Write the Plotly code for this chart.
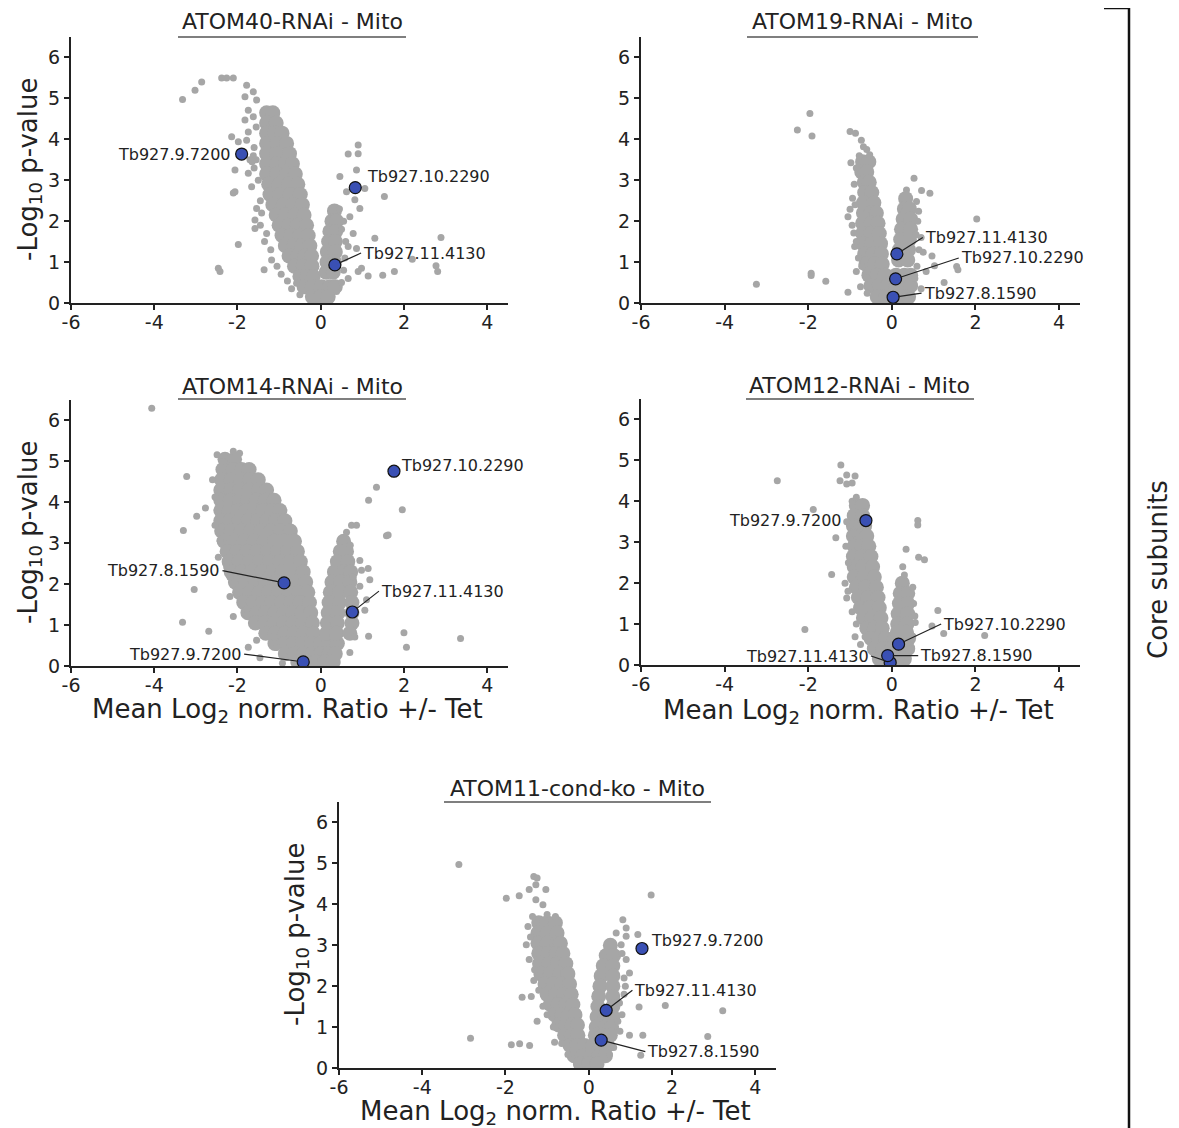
import plotly.graph_objects as go

PAGE_W, PAGE_H = 1179, 1128
OFF = 8  # default body margin of the html page
W, H = PAGE_W - OFF, PAGE_H - OFF
FONT = "DejaVu Sans"
GRAY = "#A6A6A6"
BLUE = "#3A50B4"
INK = "#222222"

# ---------------- data ----------------
panel_titles = ["ATOM40-RNAi - Mito", "ATOM19-RNAi - Mito", "ATOM14-RNAi - Mito",
                "ATOM12-RNAi - Mito", "ATOM11-cond-ko - Mito"]
x_ticks = [-6, -4, -2, 0, 2, 4]
x_ticklabels = ["-6", "-4", "-2", "0", "2", "4"]
y_ticks = [0, 1, 2, 3, 4, 5, 6]
y_ticklabels = ["0", "1", "2", "3", "4", "5", "6"]

# dense part of each cloud, read row by row: (y, [x values])
atom40_dense = [
    (4.65, [-1.3, -1.15]), (4.4, [-1.3, -1.07]), (4.15, [-1.3, -1.1, -0.93]),
    (3.9, [-1.3, -1.05, -0.82]), (3.65, [-1.3, -1.05, -0.75]),
    (3.4, [-1.3, -1.05, -0.85, -0.68]), (3.15, [-1.3, -1.05, -0.82, -0.61]),
    (2.9, [-1.25, -1.0, -0.77, -0.55]), (2.65, [-1.22, -0.98, -0.73, -0.49]),
    (2.4, [-1.15, -0.9, -0.67, -0.44]), (2.15, [-1.07, -0.85, -0.62, -0.4]),
    (1.9, [-1.0, -0.78, -0.56, -0.34]), (1.65, [-0.93, -0.72, -0.5, -0.3]),
    (1.4, [-0.85, -0.64, -0.45, -0.26]), (1.15, [-0.76, -0.55, -0.38, -0.22]),
    (0.9, [-0.63, -0.42, -0.21]), (0.65, [-0.5, -0.33, -0.18]),
    (0.4, [-0.4, -0.2, 0.02, 0.22, 0.35]), (0.15, [-0.2, 0.0, 0.18]),
    (2.25, [0.33]), (2.0, [0.27, 0.38]), (1.75, [0.22, 0.36]), (1.5, [0.19, 0.35]),
    (1.25, [0.16, 0.35]), (1.0, [0.15, 0.33]), (0.75, [0.13, 0.3]),
]
atom40_sparse = [
    (-3.32, 4.97), (-3.02, 5.2), (-2.86, 5.4), (-2.38, 5.5), (-2.26, 5.5), (-2.1, 5.5),
    (-1.78, 5.32), (-1.62, 5.16), (-1.82, 5.04), (-1.54, 4.96), (-1.74, 4.71), (-1.82, 4.47),
    (-1.62, 4.55), (-1.74, 4.18), (-2.14, 4.06), (-1.98, 3.94), (-1.78, 3.98), (-2.06, 3.25),
    (-1.74, 3.17), (-2.1, 2.69), (-1.66, 2.84), (-1.54, 2.31), (-1.58, 2.03), (-1.58, 1.82),
    (-1.98, 1.43), (-2.46, 0.85), (-2.42, 0.77), (-1.36, 0.81), (-1.18, 1.05), (-0.8, 0.54),
    (-0.58, 0.48), (-2.06, 2.72),
    (-1.55, 4.3), (-1.6, 3.8), (-1.55, 3.5), (-1.62, 3.6), (-1.5, 3.0), (-1.6, 3.3),
    (-1.45, 2.5), (-1.42, 2.2), (-1.3, 1.7), (-1.35, 1.5), (-1.2, 1.3), (-1.05, 0.9),
    (-0.95, 0.7), (-0.7, 0.35), (-0.5, 0.2), (-1.7, 3.5), (-1.65, 3.45), (-1.45, 1.9),
    (0.9, 3.65), (0.66, 3.64), (0.46, 3.09), (0.9, 3.86), (0.86, 3.25), (1.06, 2.8),
    (1.53, 2.6), (1.3, 1.58), (2.89, 1.6), (2.2, 1.07), (2.77, 0.91), (2.81, 0.77),
    (1.77, 0.77), (1.49, 0.68), (1.14, 0.66), (0.98, 0.85), (0.9, 0.77), (0.66, 0.6),
    (0.38, 0.28), (0.82, 2.52), (0.94, 2.31), (0.62, 2.72), (0.7, 2.11), (0.78, 1.7),
    (0.66, 1.38), (0.86, 1.33), (0.55, 2.0), (0.6, 1.5), (0.58, 1.1), (0.55, 0.8),
    (0.5, 0.5), (0.45, 2.3), (0.5, 1.8),
]
atom40_genes = ["Tb927.9.7200", "Tb927.10.2290", "Tb927.11.4130"]
atom40_gx = [-1.9, 0.83, 0.34]
atom40_gy = [3.64, 2.82, 0.93]

atom19_dense = [
    (3.45, [-0.7, -0.55]), (3.2, [-0.72, -0.6]), (2.95, [-0.66, -0.54]),
    (2.7, [-0.65, -0.48]), (2.45, [-0.68, -0.43]), (2.2, [-0.68, -0.5, -0.37]),
    (1.95, [-0.7, -0.5, -0.33]), (1.7, [-0.7, -0.5, -0.3]), (1.45, [-0.7, -0.48, -0.27]),
    (1.2, [-0.65, -0.45, -0.25]), (0.95, [-0.62, -0.42, -0.23]),
    (0.68, [-0.55, -0.35, -0.16, 0.1, 0.3, 0.45]), (0.42, [-0.5, -0.3, -0.1, 0.1, 0.3, 0.45]),
    (0.15, [-0.35, -0.15, 0.05, 0.25, 0.4]),
    (2.55, [0.33]), (2.3, [0.3, 0.42]), (2.05, [0.27, 0.45]), (1.8, [0.23, 0.45]),
    (1.55, [0.21, 0.42]), (1.3, [0.18, 0.4]), (1.05, [0.16, 0.38]),
]
atom19_sparse = [
    (-1.96, 4.63), (-2.26, 4.23), (-1.91, 4.08), (-1.0, 4.19), (-0.87, 4.15), (-0.73, 3.98),
    (-0.68, 3.82), (-0.53, 3.62), (-0.98, 3.43), (0.53, 3.05), (0.35, 2.76), (0.71, 2.75),
    (0.91, 2.68), (0.59, 2.48), (0.64, 2.24), (2.03, 2.05), (-1.0, 2.29), (-0.94, 2.56),
    (-1.05, 2.11), (-0.91, 1.71), (-0.89, 1.38), (-0.85, 0.77), (-0.61, 0.61), (-1.05, 0.26),
    (-0.59, 0.24), (-1.93, 0.73), (-1.93, 0.67), (-1.58, 0.53), (-3.24, 0.46), (0.75, 1.24),
    (0.96, 1.15), (1.02, 0.91), (1.55, 0.89), (1.58, 0.81), (1.25, 0.5), (0.82, 0.77),
    (0.58, 1.67), (-0.85, 3.3), (-0.9, 2.9), (-0.88, 2.4), (-0.95, 1.9), (-0.85, 1.5),
    (-0.8, 1.1), (-0.72, 0.9), (-0.75, 0.4), (0.62, 2.0), (0.7, 1.6), (0.65, 1.3),
    (0.6, 0.9), (0.55, 0.6), (0.7, 0.35), (0.45, 0.2), (-0.6, 3.75), (-0.78, 3.6),
]
atom19_genes = ["Tb927.11.4130", "Tb927.10.2290", "Tb927.8.1590"]
atom19_gx = [0.12, 0.09, 0.03]
atom19_gy = [1.2, 0.59, 0.14]

atom14_dense = [
    (5.05, [-2.3, -2.07]), (4.8, [-2.35, -2.1, -1.9, -1.72]),
    (4.55, [-2.38, -2.15, -1.92, -1.7, -1.5]),
    (4.3, [-2.4, -2.15, -1.95, -1.72, -1.5, -1.3]),
    (4.05, [-2.4, -2.17, -1.95, -1.75, -1.55, -1.33, -1.12]),
    (3.8, [-2.4, -2.2, -1.99, -1.79, -1.59, -1.39, -1.18, -0.98]),
    (3.55, [-2.4, -2.18, -1.96, -1.74, -1.52, -1.3, -1.08, -0.86]),
    (3.3, [-2.38, -2.15, -1.91, -1.68, -1.44, -1.2, -0.97, -0.73]),
    (3.05, [-2.32, -2.08, -1.84, -1.6, -1.36, -1.11, -0.87, -0.63]),
    (2.8, [-2.25, -2.01, -1.77, -1.53, -1.28, -1.04, -0.8, -0.56]),
    (2.55, [-2.2, -1.96, -1.71, -1.47, -1.23, -0.98, -0.74, -0.49]),
    (2.3, [-2.15, -1.9, -1.66, -1.41, -1.16, -0.92, -0.67, -0.42]),
    (2.05, [-2.05, -1.81, -1.57, -1.33, -1.08, -0.84, -0.6, -0.36]),
    (1.8, [-1.95, -1.71, -1.48, -1.25, -1.01, -0.78, -0.54, -0.31]),
    (1.55, [-1.85, -1.62, -1.39, -1.17, -0.94, -0.72, -0.49, -0.27]),
    (1.3, [-1.75, -1.53, -1.32, -1.1, -0.88, -0.67, -0.45, -0.24]),
    (1.05, [-1.57, -1.34, -1.12, -0.89, -0.66, -0.43, -0.2]),
    (0.8, [-1.32, -1.1, -0.86, -0.64, -0.41, -0.18]),
    (0.55, [-1.1, -0.88, -0.66, -0.44, -0.22, 0.0, 0.2, 0.4]),
    (0.3, [-0.85, -0.63, -0.41, -0.2, 0.0, 0.2, 0.35]),
    (0.1, [-0.55, -0.33, -0.12, 0.1, 0.3]),
    (3.05, [0.55]), (2.8, [0.47, 0.62]), (2.55, [0.4, 0.65]), (2.3, [0.33, 0.55, 0.72]),
    (2.05, [0.27, 0.48, 0.7]), (1.8, [0.23, 0.45, 0.72]), (1.55, [0.2, 0.45, 0.75]),
    (1.3, [0.18, 0.42, 0.75]), (1.05, [0.16, 0.4, 0.75]), (0.8, [0.14, 0.38, 0.7]),
]
atom14_sparse = [
    (-4.06, 6.3), (-3.22, 4.63), (-3.3, 3.31), (-2.98, 3.66), (-2.77, 3.86), (-2.49, 5.16),
    (-3.32, 1.07), (-3.04, 1.87), (-2.69, 0.85), (-2.18, 1.7), (-2.1, 1.21), (-1.77, 1.25),
    (-1.74, 0.46), (-1.46, 0.2), (-1.54, 0.63), (-1.13, 0.71), (-1.06, 0.45), (-0.92, 0.07),
    (-2.54, 4.13), (-2.54, 3.44), (-2.42, 3.07), (-2.46, 2.66), (-2.26, 2.42), (-2.18, 2.17),
    (-2.1, 5.25), (-1.95, 5.2), (-2.6, 4.55), (-2.35, 5.0),
    (1.15, 4.05), (1.34, 4.37), (1.96, 3.82), (1.58, 3.18), (1.62, 3.2), (0.74, 3.44),
    (0.86, 3.44), (0.62, 3.27), (0.71, 2.95), (0.94, 2.58), (1.14, 2.38), (1.18, 2.11),
    (0.94, 1.95), (1.1, 1.62), (1.06, 1.36), (1.15, 0.73), (0.82, 0.71), (0.7, 0.33),
    (2.0, 0.81), (2.06, 0.46), (3.36, 0.67), (0.78, 2.17), (0.98, 2.34),
]
atom14_genes = ["Tb927.10.2290", "Tb927.8.1590", "Tb927.11.4130", "Tb927.9.7200"]
atom14_gx = [1.76, -0.88, 0.76, -0.42]
atom14_gy = [4.76, 2.03, 1.32, 0.1]

atom12_dense = [
    (3.9, [-0.85, -0.7]), (3.65, [-0.9, -0.7]), (3.4, [-0.92, -0.75, -0.65]),
    (3.15, [-0.92, -0.75, -0.6]), (2.9, [-0.9, -0.72, -0.55]), (2.65, [-0.92, -0.72, -0.5]),
    (2.4, [-0.9, -0.7, -0.46]), (2.15, [-0.9, -0.68, -0.42]), (1.9, [-0.85, -0.63, -0.37]),
    (1.65, [-0.8, -0.58, -0.33]), (1.4, [-0.75, -0.53, -0.3]), (1.15, [-0.68, -0.48, -0.26]),
    (0.9, [-0.6, -0.42, -0.23]), (0.65, [-0.5, -0.32, -0.15, 0.05, 0.25, 0.4]),
    (0.4, [-0.42, -0.22, 0.0, 0.2, 0.38]), (0.15, [-0.3, -0.1, 0.1, 0.3]),
    (2.0, [0.25]), (1.75, [0.2, 0.38]), (1.5, [0.18, 0.38]), (1.25, [0.15, 0.38]),
    (1.0, [0.14, 0.36]), (0.8, [0.13, 0.35]),
]
atom12_sparse = [
    (-2.74, 4.5), (-1.22, 4.89), (-1.24, 4.5), (-1.08, 4.64), (-0.88, 4.62), (-1.08, 4.42),
    (-0.95, 4.45), (-1.88, 3.8), (-1.34, 3.11), (-1.44, 2.21), (-2.08, 0.87), (-1.08, 1.64),
    (-0.88, 0.69), (-0.64, 0.69), (-1.08, 3.5), (-0.92, 3.22), (-1.04, 2.5), (0.62, 3.53),
    (0.62, 3.42), (0.34, 2.83), (0.64, 2.63), (0.78, 2.57), (0.26, 2.4), (1.1, 1.33),
    (1.24, 0.77), (2.22, 0.72), (0.96, 0.95), (0.56, 1.04), (0.52, 1.5), (0.36, 0.08),
    (-1.1, 2.9), (-1.12, 2.0), (-1.05, 1.8), (-0.95, 1.3), (-0.85, 1.0), (-0.75, 0.5),
    (-0.95, 4.0), (-0.85, 4.1), (0.5, 1.9), (0.55, 1.2), (0.5, 0.7), (0.45, 0.4), (0.3, 2.2),
]
atom12_genes = ["Tb927.9.7200", "Tb927.10.2290", "Tb927.11.4130", "Tb927.8.1590"]
atom12_gx = [-0.62, 0.16, -0.04, -0.1]
atom12_gy = [3.53, 0.51, 0.06, 0.23]

atom11_dense = [
    (3.55, [-1.2, -1.0, -0.8]), (3.3, [-1.22, -1.0, -0.76]), (3.05, [-1.22, -1.0, -0.78, -0.68]),
    (2.8, [-1.2, -0.98, -0.78, -0.62]), (2.55, [-1.18, -0.95, -0.75, -0.55]),
    (2.3, [-1.15, -0.92, -0.7, -0.5]), (2.05, [-1.05, -0.85, -0.65, -0.46]),
    (1.8, [-1.0, -0.8, -0.6, -0.42]), (1.55, [-0.92, -0.73, -0.55, -0.38]),
    (1.3, [-0.82, -0.64, -0.47, -0.33]), (1.05, [-0.72, -0.55, -0.4, -0.27]),
    (0.8, [-0.58, -0.42, -0.26]), (0.55, [-0.45, -0.28, -0.1, 0.1, 0.28, 0.45]),
    (0.3, [-0.35, -0.15, 0.05, 0.25, 0.4]), (0.1, [-0.2, 0.0, 0.2]),
    (3.0, [0.52]), (2.75, [0.42, 0.6]), (2.5, [0.35, 0.58]), (2.25, [0.3, 0.58]),
    (2.0, [0.27, 0.58]), (1.75, [0.24, 0.58]), (1.5, [0.22, 0.58]), (1.25, [0.2, 0.4, 0.58]),
    (1.0, [0.18, 0.4, 0.55]), (0.8, [0.16, 0.35, 0.52]),
]
atom11_sparse = [
    (-3.12, 4.97), (-2.84, 0.73), (-1.98, 4.15), (-1.67, 4.21), (-1.43, 4.36), (-1.32, 4.68),
    (-1.24, 4.64), (-1.27, 4.48), (-1.03, 4.36), (-1.27, 4.11), (-1.1, 3.99), (-1.86, 0.57),
    (-1.66, 0.59), (-1.42, 0.55), (-1.6, 1.73), (-1.38, 1.75), (-1.24, 1.14), (-0.82, 0.63),
    (-0.5, 0.33), (-1.46, 3.46), (-1.5, 3.01), (-1.43, 2.65), (-1.32, 2.14), (-1.1, 1.51),
    (1.5, 4.23), (0.82, 3.62), (0.9, 3.42), (0.66, 3.3), (1.18, 3.26), (0.9, 3.22),
    (0.78, 3.01), (0.9, 2.65), (0.98, 2.32), (0.88, 2.0), (1.21, 1.49), (1.84, 1.53),
    (3.22, 1.4), (0.98, 0.8), (1.3, 0.8), (1.25, 0.31), (2.86, 0.77), (0.5, 0.33),
    (0.7, 1.14), (0.74, 1.59), (-1.35, 3.7), (-1.0, 3.75), (-0.8, 3.7), (-1.4, 3.2),
    (-1.3, 2.4), (-1.2, 1.9), (-1.0, 1.3), (-0.85, 1.0), (-0.65, 0.6), (0.8, 2.8),
    (0.85, 2.2), (0.85, 1.8), (0.8, 1.3), (0.75, 0.9), (0.6, 0.5),
]
atom11_genes = ["Tb927.9.7200", "Tb927.11.4130", "Tb927.8.1590"]
atom11_gx = [1.28, 0.42, 0.3]
atom11_gy = [2.92, 1.41, 0.68]

panels_data = [
    (atom40_dense, atom40_sparse, atom40_genes, atom40_gx, atom40_gy),
    (atom19_dense, atom19_sparse, atom19_genes, atom19_gx, atom19_gy),
    (atom14_dense, atom14_sparse, atom14_genes, atom14_gx, atom14_gy),
    (atom12_dense, atom12_sparse, atom12_genes, atom12_gx, atom12_gy),
    (atom11_dense, atom11_sparse, atom11_genes, atom11_gx, atom11_gy),
]

# ---------------- layout (page-pixel boxes of each plot area) ----------------
boxes = [  # left, right, top, bottom
    (71, 508, 37, 303),
    (641, 1080, 37, 303),
    (71, 508, 400, 666),
    (641, 1080, 399, 665),
    (339, 776, 802, 1068),
]
ytitle_x = [29, None, 29, None, 297]
xtitle_y = [None, None, 710, 711, 1112]
title_pos = [(292, 22, 178, 406, 37), (862, 22, 747, 978, 37), (292, 386, 178, 406, 399),
             (860, 385, 746, 974, 399), (577, 788, 444, 711, 802)]

# label placement: (text x, text y, anchor, draw leader line)
label_place = [
    [(-2.1, 3.64, "right", False), (1.07, 3.08, "left", False), (0.97, 1.22, "left", True)],
    [(0.74, 1.6, "left", True), (1.6, 1.1, "left", True), (0.71, 0.24, "left", True)],
    [(1.88, 4.9, "left", False), (-2.36, 2.33, "right", True), (1.4, 1.83, "left", True),
     (-1.84, 0.29, "right", True)],
    [(-1.15, 3.53, "right", False), (1.18, 1.0, "left", True), (-0.5, 0.22, "right", True),
     (0.63, 0.23, "left", True)],
    [(1.45, 3.12, "left", False), (1.05, 1.9, "left", True), (1.36, 0.4, "left", True)],
]


def fx(px):
    return (px - OFF) / W


def fy(py):
    return 1 - (py - OFF) / H


fig = go.Figure()
layout = dict(
    width=W, height=H, margin=dict(l=0, r=0, t=0, b=0, autoexpand=False),
    paper_bgcolor="white", plot_bgcolor="white", showlegend=False,
    font=dict(family=FONT, color=INK),
)
annotations = []
shapes = []

for i, (dense, sparse, genes, gx, gy) in enumerate(panels_data):
    n = "" if i == 0 else str(i + 1)
    xr, yr = "x" + n, "y" + n
    dx = [x for y, xs in dense for x in xs]
    dy = [y for y, xs in dense for _ in xs]
    fig.add_trace(go.Scatter(x=dx, y=dy, mode="markers", xaxis=xr, yaxis=yr,
                             marker=dict(size=15, color=GRAY), hoverinfo="skip"))
    fig.add_trace(go.Scatter(x=[p[0] for p in sparse], y=[p[1] for p in sparse],
                             mode="markers", xaxis=xr, yaxis=yr,
                             marker=dict(size=7, color=GRAY), hoverinfo="skip"))
    fig.add_trace(go.Scatter(x=gx, y=gy, mode="markers", xaxis=xr, yaxis=yr, text=genes,
                             marker=dict(size=12, color=BLUE, line=dict(color="#111", width=1.2))))
    l, r, t, b = boxes[i]
    common = dict(showline=True, linecolor=INK, linewidth=2, ticks="outside", ticklen=5,
                  tickwidth=2, tickcolor=INK, showgrid=False, zeroline=False, automargin=False,
                  tickfont=dict(size=19, family=FONT, color=INK))
    layout["xaxis" + n] = dict(domain=[fx(l), fx(r)], anchor=yr, range=[-6, 4.5],
                               tickvals=x_ticks, ticktext=x_ticklabels,
                               ticklabelstandoff=-4, **common)
    layout["yaxis" + n] = dict(domain=[fy(b), fy(t)], anchor=xr, range=[0, 6.5],
                               tickvals=y_ticks, ticktext=y_ticklabels, **common)
    # axis titles
    if ytitle_x[i] is not None:
        annotations.append(dict(text="-Log<sub>10</sub> p-value", x=fx(ytitle_x[i]),
                                y=fy((t + b) / 2), xref="paper", yref="paper", showarrow=False,
                                textangle=-90, xanchor="center", yanchor="middle",
                                font=dict(size=26, family=FONT, color=INK)))
    if xtitle_y[i] is not None:
        annotations.append(dict(text="Mean Log<sub>2</sub> norm. Ratio +/- Tet",
                                x=fx((l + r) / 2 - 2), y=fy(xtitle_y[i]), xref="paper", yref="paper",
                                showarrow=False, xanchor="center", yanchor="middle",
                                font=dict(size=26, family=FONT, color=INK)))
    # panel title with underline
    cx, cy, ux0, ux1, uy = title_pos[i]
    annotations.append(dict(text=panel_titles[i], x=fx(cx), y=fy(cy), xref="paper", yref="paper",
                            showarrow=False, xanchor="center", yanchor="middle",
                            font=dict(size=22, family=FONT, color=INK)))
    shapes.append(dict(type="line", xref="paper", yref="paper", x0=fx(ux0), x1=fx(ux1),
                       y0=fy(uy), y1=fy(uy), line=dict(color="#555", width=1.5)))
    # gene labels
    for g, px_, py_, (tx, ty, anc, line) in zip(genes, gx, gy, label_place[i]):
        a = dict(text=g, xref=xr, yref=yr, font=dict(size=16, family=FONT, color=INK),
                 xanchor=anc, yanchor="middle")
        if line:
            a.update(x=px_, y=py_, ax=tx, ay=ty, axref=xr, ayref=yr, showarrow=True,
                     arrowhead=0, arrowwidth=1.2, arrowcolor=INK, standoff=5)
        else:
            a.update(x=tx, y=ty, showarrow=False)
        annotations.append(a)

# bracket on the right
shapes.append(dict(type="line", xref="paper", yref="paper", x0=fx(1129), x1=fx(1129),
                   y0=fy(8), y1=0, line=dict(color="#111", width=2.5)))
shapes.append(dict(type="line", xref="paper", yref="paper", x0=fx(1104), x1=fx(1129),
                   y0=fy(8), y1=fy(8), line=dict(color="#111", width=2.5)))
annotations.append(dict(text="Core subunits", x=fx(1158), y=fy(570), xref="paper", yref="paper",
                        showarrow=False, textangle=-90, xanchor="center", yanchor="middle",
                        font=dict(size=26, family=FONT, color=INK)))

layout["annotations"] = annotations
layout["shapes"] = shapes
fig.update_layout(**layout)
fig.write_html("out.html")
